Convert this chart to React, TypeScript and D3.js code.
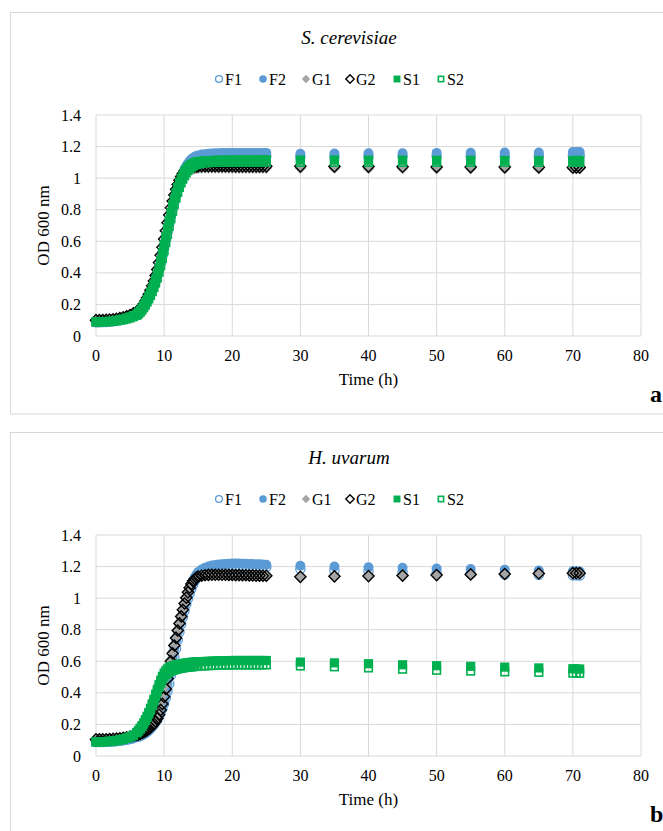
import { useMemo } from "react";
import * as d3 from "d3";

// sampling times (h): every 0.5 h, 0.25 h during the rise, then every 5 h
const TIMES = [
  0, 0.5, 1, 1.5, 2, 2.5, 3, 3.5, 4, 4.5, 5, 5.5, 6,
  6.25, 6.5, 6.75, 7, 7.25, 7.5, 7.75, 8, 8.25, 8.5, 8.75, 9, 9.25, 9.5, 9.75, 10, 10.25, 10.5, 10.75, 11, 11.25, 11.5, 11.75, 12, 12.25, 12.5, 12.75, 13, 13.25, 13.5, 13.75, 14, 14.25, 14.5, 14.75, 15,
  15.5, 16, 16.5, 17, 17.5, 18, 18.5, 19, 19.5, 20, 20.5, 21, 21.5, 22, 22.5, 23, 23.5, 24, 24.5, 25,
  30, 35, 40, 45, 50, 55, 60, 65, 70, 70.5, 71,
];

// S. cerevisiae
const SC_F1 = [
  0.087, 0.087, 0.088, 0.089, 0.091, 0.093, 0.096, 0.100, 0.105, 0.111, 0.118, 0.127, 0.137,
  0.146, 0.157, 0.170, 0.186, 0.204, 0.223, 0.244, 0.267, 0.292, 0.319, 0.349, 0.382, 0.419, 0.461, 0.507, 0.556, 0.607, 0.658, 0.709, 0.758, 0.805, 0.849, 0.890, 0.927, 0.960, 0.990, 1.016, 1.038, 1.057, 1.073, 1.086, 1.097, 1.106, 1.113, 1.118, 1.122,
  1.127, 1.130, 1.132, 1.134, 1.135, 1.136, 1.137, 1.137, 1.138, 1.138, 1.138, 1.138, 1.138, 1.138, 1.138, 1.138, 1.138, 1.138, 1.138, 1.138,
  1.135, 1.136, 1.137, 1.138, 1.139, 1.140, 1.141, 1.142, 1.143, 1.143, 1.143,
];
const SC_F2 = [
  0.088, 0.088, 0.089, 0.090, 0.092, 0.094, 0.097, 0.101, 0.106, 0.112, 0.119, 0.128, 0.138,
  0.147, 0.158, 0.172, 0.188, 0.206, 0.226, 0.247, 0.270, 0.295, 0.322, 0.352, 0.386, 0.424, 0.467, 0.514, 0.564, 0.615, 0.667, 0.718, 0.768, 0.816, 0.861, 0.903, 0.941, 0.976, 1.007, 1.034, 1.057, 1.077, 1.094, 1.108, 1.119, 1.128, 1.135, 1.140, 1.144,
  1.149, 1.152, 1.154, 1.156, 1.157, 1.158, 1.159, 1.159, 1.160, 1.160, 1.160, 1.160, 1.160, 1.160, 1.160, 1.160, 1.160, 1.160, 1.160, 1.160,
  1.155, 1.156, 1.157, 1.158, 1.160, 1.161, 1.162, 1.163, 1.165, 1.165, 1.166,
];
const SC_G1 = [
  0.095, 0.095, 0.096, 0.097, 0.099, 0.101, 0.104, 0.108, 0.113, 0.119, 0.127, 0.137, 0.149,
  0.156, 0.165, 0.177, 0.192, 0.210, 0.230, 0.252, 0.276, 0.302, 0.331, 0.363, 0.399, 0.440, 0.485, 0.534, 0.585, 0.637, 0.689, 0.739, 0.787, 0.832, 0.873, 0.910, 0.942, 0.970, 0.993, 1.012, 1.027, 1.037, 1.045, 1.050, 1.054, 1.057, 1.059, 1.061, 1.062,
  1.063, 1.063, 1.063, 1.063, 1.063, 1.063, 1.063, 1.063, 1.062, 1.062, 1.062, 1.062, 1.062, 1.062, 1.062, 1.062, 1.062, 1.062, 1.062, 1.062,
  1.062, 1.061, 1.060, 1.060, 1.059, 1.059, 1.058, 1.058, 1.058, 1.058, 1.058,
];
const SC_G2 = [
  0.100, 0.100, 0.101, 0.102, 0.104, 0.106, 0.109, 0.113, 0.118, 0.125, 0.133, 0.143, 0.155,
  0.163, 0.173, 0.186, 0.202, 0.221, 0.242, 0.265, 0.290, 0.318, 0.349, 0.384, 0.422, 0.465, 0.512, 0.562, 0.614, 0.666, 0.717, 0.766, 0.812, 0.855, 0.894, 0.929, 0.960, 0.987, 1.010, 1.029, 1.044, 1.055, 1.063, 1.068, 1.071, 1.073, 1.074, 1.075, 1.075,
  1.076, 1.076, 1.076, 1.076, 1.076, 1.076, 1.076, 1.076, 1.076, 1.076, 1.075, 1.075, 1.075, 1.075, 1.075, 1.075, 1.075, 1.075, 1.075, 1.075,
  1.075, 1.074, 1.073, 1.072, 1.071, 1.070, 1.070, 1.069, 1.068, 1.068, 1.068,
];
const SC_S1 = [
  0.090, 0.090, 0.091, 0.092, 0.094, 0.096, 0.099, 0.103, 0.108, 0.114, 0.121, 0.130, 0.140,
  0.150, 0.162, 0.177, 0.194, 0.212, 0.232, 0.253, 0.276, 0.301, 0.328, 0.358, 0.392, 0.432, 0.478, 0.527, 0.578, 0.630, 0.682, 0.733, 0.782, 0.828, 0.870, 0.908, 0.942, 0.972, 0.998, 1.020, 1.040, 1.056, 1.069, 1.079, 1.087, 1.093, 1.098, 1.102, 1.105,
  1.108, 1.110, 1.111, 1.112, 1.113, 1.113, 1.114, 1.114, 1.114, 1.115, 1.115, 1.115, 1.115, 1.115, 1.116, 1.116, 1.116, 1.116, 1.116, 1.116,
  1.115, 1.115, 1.114, 1.114, 1.113, 1.113, 1.112, 1.112, 1.112, 1.112, 1.112,
];
const SC_S2 = [
  0.088, 0.088, 0.089, 0.090, 0.091, 0.093, 0.096, 0.099, 0.103, 0.108, 0.114, 0.122, 0.131,
  0.140, 0.151, 0.164, 0.179, 0.196, 0.215, 0.235, 0.257, 0.281, 0.307, 0.336, 0.368, 0.405, 0.446, 0.492, 0.541, 0.592, 0.643, 0.694, 0.743, 0.790, 0.834, 0.874, 0.910, 0.942, 0.970, 0.994, 1.015, 1.033, 1.048, 1.060, 1.070, 1.077, 1.083, 1.087, 1.090,
  1.094, 1.096, 1.098, 1.099, 1.100, 1.100, 1.101, 1.101, 1.101, 1.102, 1.102, 1.102, 1.102, 1.102, 1.102, 1.102, 1.102, 1.102, 1.102, 1.102,
  1.100, 1.100, 1.100, 1.100, 1.100, 1.100, 1.100, 1.100, 1.100, 1.100, 1.100,
];

// H. uvarum
const HU_F1 = [
  0.089, 0.089, 0.089, 0.090, 0.091, 0.092, 0.094, 0.096, 0.099, 0.103, 0.107, 0.113, 0.120,
  0.124, 0.128, 0.133, 0.139, 0.146, 0.154, 0.163, 0.174, 0.186, 0.200, 0.215, 0.232, 0.252, 0.275, 0.301, 0.332, 0.368, 0.410, 0.458, 0.512, 0.568, 0.624, 0.680, 0.734, 0.786, 0.835, 0.880, 0.922, 0.961, 0.997, 1.030, 1.060, 1.087, 1.110, 1.129, 1.145,
  1.165, 1.178, 1.187, 1.193, 1.197, 1.200, 1.202, 1.203, 1.204, 1.204, 1.204, 1.204, 1.203, 1.203, 1.202, 1.201, 1.200, 1.199, 1.198, 1.197,
  1.185, 1.175, 1.170, 1.165, 1.160, 1.155, 1.150, 1.148, 1.145, 1.145, 1.143,
];
const HU_F2 = [
  0.090, 0.090, 0.090, 0.091, 0.092, 0.093, 0.095, 0.097, 0.100, 0.104, 0.109, 0.115, 0.123,
  0.128, 0.133, 0.139, 0.146, 0.154, 0.163, 0.174, 0.186, 0.200, 0.215, 0.232, 0.252, 0.275, 0.301, 0.332, 0.368, 0.410, 0.458, 0.512, 0.568, 0.624, 0.680, 0.734, 0.786, 0.835, 0.880, 0.922, 0.961, 0.997, 1.030, 1.060, 1.087, 1.111, 1.132, 1.150, 1.165,
  1.181, 1.192, 1.200, 1.206, 1.210, 1.213, 1.215, 1.217, 1.218, 1.219, 1.219, 1.219, 1.218, 1.218, 1.217, 1.216, 1.215, 1.214, 1.213, 1.212,
  1.205, 1.200, 1.196, 1.192, 1.188, 1.184, 1.180, 1.175, 1.170, 1.170, 1.168,
];
const HU_G1 = [
  0.100, 0.100, 0.100, 0.101, 0.102, 0.103, 0.105, 0.107, 0.110, 0.113, 0.117, 0.122, 0.128,
  0.132, 0.136, 0.141, 0.147, 0.154, 0.162, 0.171, 0.182, 0.195, 0.210, 0.228, 0.250, 0.277, 0.310, 0.350, 0.397, 0.450, 0.506, 0.560, 0.612, 0.661, 0.709, 0.756, 0.802, 0.846, 0.889, 0.930, 0.968, 1.003, 1.035, 1.063, 1.086, 1.104, 1.117, 1.126, 1.132,
  1.139, 1.142, 1.144, 1.145, 1.145, 1.145, 1.145, 1.145, 1.144, 1.144, 1.143, 1.143, 1.142, 1.142, 1.141, 1.141, 1.140, 1.140, 1.139, 1.139,
  1.133, 1.136, 1.139, 1.142, 1.145, 1.148, 1.151, 1.154, 1.156, 1.157, 1.157,
];
const HU_G2 = [
  0.105, 0.105, 0.105, 0.106, 0.107, 0.108, 0.110, 0.112, 0.115, 0.118, 0.122, 0.127, 0.133,
  0.137, 0.141, 0.146, 0.151, 0.157, 0.164, 0.172, 0.181, 0.192, 0.204, 0.219, 0.238, 0.262, 0.292, 0.330, 0.375, 0.425, 0.490, 0.548, 0.600, 0.650, 0.700, 0.748, 0.795, 0.840, 0.884, 0.926, 0.966, 1.003, 1.037, 1.066, 1.090, 1.108, 1.121, 1.130, 1.136,
  1.142, 1.145, 1.147, 1.148, 1.148, 1.148, 1.148, 1.148, 1.147, 1.147, 1.146, 1.146, 1.145, 1.145, 1.144, 1.144, 1.143, 1.143, 1.142, 1.142,
  1.135, 1.138, 1.140, 1.143, 1.146, 1.150, 1.153, 1.156, 1.158, 1.158, 1.158,
];
const HU_S1 = [
  0.090, 0.090, 0.091, 0.092, 0.094, 0.096, 0.099, 0.103, 0.108, 0.114, 0.122, 0.133, 0.150,
  0.162, 0.176, 0.192, 0.210, 0.230, 0.252, 0.276, 0.302, 0.330, 0.360, 0.391, 0.422, 0.452, 0.480, 0.505, 0.525, 0.540, 0.551, 0.559, 0.565, 0.569, 0.573, 0.576, 0.579, 0.581, 0.583, 0.585, 0.587, 0.589, 0.590, 0.592, 0.593, 0.594, 0.595, 0.596, 0.597,
  0.598, 0.599, 0.600, 0.601, 0.602, 0.603, 0.603, 0.604, 0.604, 0.605, 0.605, 0.605, 0.605, 0.605, 0.605, 0.605, 0.605, 0.605, 0.605, 0.605,
  0.595, 0.590, 0.585, 0.578, 0.572, 0.568, 0.563, 0.558, 0.553, 0.552, 0.551,
];
const HU_S2 = [
  0.088, 0.088, 0.089, 0.090, 0.092, 0.094, 0.097, 0.101, 0.106, 0.112, 0.120, 0.131, 0.147,
  0.158, 0.171, 0.186, 0.203, 0.222, 0.243, 0.266, 0.291, 0.318, 0.346, 0.376, 0.406, 0.435, 0.461, 0.484, 0.502, 0.516, 0.526, 0.533, 0.538, 0.542, 0.546, 0.549, 0.552, 0.554, 0.556, 0.558, 0.560, 0.562, 0.563, 0.564, 0.565, 0.566, 0.567, 0.568, 0.569,
  0.570, 0.571, 0.572, 0.573, 0.574, 0.575, 0.575, 0.576, 0.576, 0.577, 0.577, 0.577, 0.577, 0.577, 0.577, 0.577, 0.577, 0.577, 0.577, 0.577,
  0.570, 0.565, 0.558, 0.550, 0.543, 0.538, 0.533, 0.530, 0.525, 0.525, 0.524,
];

const SERIES_NAMES = ["F1", "F2", "G1", "G2", "S1", "S2"];
const X_TICKS = [0, 10, 20, 30, 40, 50, 60, 70, 80];
const Y_TICKS = [0, 0.2, 0.4, 0.6, 0.8, 1, 1.2, 1.4];

const BLUE = "#5B9BD5";
const GRAY = "#A5A5A5";
const GREEN = "#00B050";
const GRID = "#D9D9D9";
const FONT = "'Liberation Serif', 'Times New Roman', serif";

// plot box inside each panel (panel b is the same box shifted down)
const PLOT = { left: 96, right: 641, top: 115, bottom: 336 };
const PANEL_SHIFT = 420;
const LEGEND_X = [219, 263, 306, 350, 397, 441];

function Marker({ name, x, y, s = 1 }) {
  if (name === "F1") return <circle cx={x} cy={y} r={4.6 * s} fill="none" stroke={BLUE} strokeWidth={1.3} />;
  if (name === "F2") return <circle cx={x} cy={y} r={5 * s} fill={BLUE} />;
  const d = 5.6 * s;
  const diamond = `M${x},${y - d}L${x + d},${y}L${x},${y + d}L${x - d},${y}Z`;
  if (name === "G1") return <path d={diamond} fill={GRAY} />;
  if (name === "G2") return <path d={diamond} fill="none" stroke="#000" strokeWidth={1.4} />;
  const h = 4.6 * s;
  if (name === "S1") return <rect x={x - h} y={y - h} width={2 * h} height={2 * h} fill={GREEN} />;
  const k = h - 0.8;
  return <rect x={x - k} y={y - k} width={2 * k} height={2 * k} fill="none" stroke={GREEN} strokeWidth={1.6} />;
}

function Panel({ offset, title, tag, series }) {
  const xScale = useMemo(() => d3.scaleLinear().domain([0, 80]).range([PLOT.left, PLOT.right]), []);
  const yScale = useMemo(
    () => d3.scaleLinear().domain([0, 1.4]).range([PLOT.bottom + offset, PLOT.top + offset]),
    [offset]
  );
  const y0 = PLOT.top + offset;
  const y1 = PLOT.bottom + offset;

  return (
    <g fontFamily={FONT} fill="#000">
      <rect x={10.5} y={12.5 + offset} width={700} height={401.5} fill="#fff" stroke={GRID} />

      <text x={349} y={37 + offset} textAnchor="middle" dominantBaseline="central" fontSize={19} fontStyle="italic">
        {title}
      </text>

      {/* legend */}
      {SERIES_NAMES.map((n, i) => (
        <g key={n}>
          <Marker name={n} x={LEGEND_X[i]} y={79 + offset} s={0.75} />
          <text x={LEGEND_X[i] + 6} y={79 + offset} dominantBaseline="central" fontSize={16}>
            {n}
          </text>
        </g>
      ))}

      {/* grid */}
      {Y_TICKS.map((v) => (
        <line key={"h" + v} x1={PLOT.left} x2={PLOT.right} y1={yScale(v)} y2={yScale(v)} stroke={GRID} />
      ))}
      {X_TICKS.map((v) => (
        <line key={"v" + v} x1={xScale(v)} x2={xScale(v)} y1={y0} y2={y1} stroke={GRID} />
      ))}

      {Y_TICKS.map((v) => (
        <text key={"yl" + v} x={PLOT.left - 15} y={yScale(v)} textAnchor="end" dominantBaseline="central" fontSize={16}>
          {d3.format("~g")(v)}
        </text>
      ))}
      {X_TICKS.map((v) => (
        <text key={"xl" + v} x={xScale(v)} y={y1 + 19} textAnchor="middle" dominantBaseline="central" fontSize={16}>
          {v}
        </text>
      ))}

      <text x={(PLOT.left + PLOT.right) / 2} y={y1 + 43} textAnchor="middle" dominantBaseline="central" fontSize={17}>
        Time (h)
      </text>
      <text
        transform={`translate(43, ${(y0 + y1) / 2}) rotate(-90)`}
        textAnchor="middle"
        dominantBaseline="central"
        fontSize={17}
      >
        OD 600 nm
      </text>

      {/* data, in series order so later ones sit on top */}
      {series.map((vals, si) => (
        <g key={SERIES_NAMES[si]}>
          {vals.map((v, i) => (
            <Marker key={i} name={SERIES_NAMES[si]} x={xScale(TIMES[i])} y={yScale(v)} />
          ))}
        </g>
      ))}

      <text x={650} y={y1 + 66} fontSize={24} fontWeight="bold">
        {tag}
      </text>
    </g>
  );
}

export default function App() {
  return (
    <svg width={663} height={831} style={{ position: "absolute", left: 0, top: 0, background: "#fff" }}>
      <rect width={663} height={831} fill="#fff" />
      <Panel offset={0} title="S. cerevisiae" tag="a" series={[SC_F1, SC_F2, SC_G1, SC_G2, SC_S1, SC_S2]} />
      <Panel offset={PANEL_SHIFT} title="H. uvarum" tag="b" series={[HU_F1, HU_F2, HU_G1, HU_G2, HU_S1, HU_S2]} />
    </svg>
  );
}
